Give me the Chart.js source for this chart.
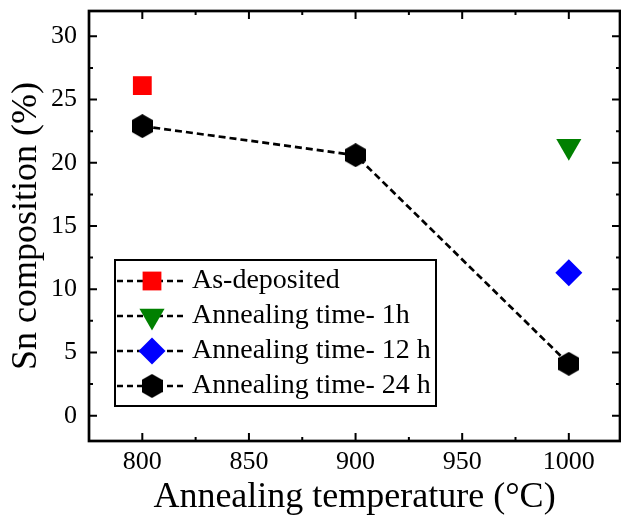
<!DOCTYPE html>
<html>
<head>
<meta charset="utf-8">
<script src="https://cdn.jsdelivr.net/npm/chart.js@4"></script>
<style>
  html, body { margin: 0; padding: 0; background: #fff; }
  #wrap { width: 621px; height: 516px; }
</style>
</head>
<body>
<div id="wrap"><canvas id="chart" width="621" height="516"></canvas></div>
<script>
// Sn composition vs annealing temperature

// data
const asDepTemp = [800];
const asDepComp = [26.1];
const h1Temp = [1000];
const h1Comp = [21.3];
const h12Temp = [1000];
const h12Comp = [11.3];
const h24Temp = [800, 900, 1000];
const h24Comp = [22.9, 20.6, 4.1];

const seriesNames = ['As-deposited', 'Annealing time- 1h', 'Annealing time- 12 h', 'Annealing time- 24 h'];
const xTickValues = [800, 850, 900, 950, 1000];
const yTickValues = [0, 5, 10, 15, 20, 25, 30];

const serif = "'Liberation Serif', 'Times New Roman', serif";

// hexagon marker (pointy top), no built-in style for it
function makeHexagon(w, h, color) {
    const c = document.createElement('canvas');
    c.width = w; c.height = h;
    const g = c.getContext('2d');
    g.fillStyle = color;
    g.beginPath();
    g.moveTo(w / 2, 0);
    g.lineTo(w, h / 4);
    g.lineTo(w, 3 * h / 4);
    g.lineTo(w / 2, h);
    g.lineTo(0, 3 * h / 4);
    g.lineTo(0, h / 4);
    g.closePath();
    g.fill();
    return c;
}
const hexMarker = makeHexagon(21, 24, '#000');

function toPoints(xs, ys) {
    return xs.map((x, i) => ({ x: x, y: ys[i] }));
}

// no extra room for the edge labels, the box is fixed
function noPad(s) {
    s.paddingTop = 0; s.paddingBottom = 0;
    s.paddingLeft = 0; s.paddingRight = 0;
}

// frame with inward ticks on all four sides
const framePlugin = {
    id: 'frame',
    afterDatasetsDraw(chart) {
        const { ctx, chartArea: ca, scales } = chart;
        const xs = scales.x, ys = scales.y;
        ctx.save();
        ctx.strokeStyle = '#000';
        ctx.lineWidth = 2.7;
        ctx.strokeRect(ca.left, ca.top, ca.right - ca.left, ca.bottom - ca.top);
        ctx.lineWidth = 2;
        const major = 8, minor = 4;
        for (let v = 775; v <= xs.max; v += 25) {
            const px = xs.getPixelForValue(v);
            const len = v % 50 === 0 ? major : minor;
            ctx.beginPath();
            ctx.moveTo(px, ca.bottom); ctx.lineTo(px, ca.bottom - len);
            ctx.moveTo(px, ca.top); ctx.lineTo(px, ca.top + len);
            ctx.stroke();
        }
        for (let v = 0; v <= ys.max; v += 2.5) {
            const py = ys.getPixelForValue(v);
            const len = v % 5 === 0 ? major : minor;
            ctx.beginPath();
            ctx.moveTo(ca.left, py); ctx.lineTo(ca.left + len, py);
            ctx.moveTo(ca.right, py); ctx.lineTo(ca.right - len, py);
            ctx.stroke();
        }
        ctx.restore();
    }
};

// boxed legend inside the plot, line + marker like the original
const boxLegendPlugin = {
    id: 'boxLegend',
    afterDraw(chart) {
        const { ctx, chartArea: ca } = chart;
        const left = ca.left + 26, top = ca.top + 249;
        const w = 321, h = 146, rowH = 35;
        ctx.save();
        ctx.fillStyle = '#fff';
        ctx.fillRect(left, top, w, h);
        ctx.strokeStyle = '#000';
        ctx.lineWidth = 2;
        ctx.strokeRect(left, top, w, h);
        chart.data.datasets.forEach((ds, i) => {
            const y = top + 21 + i * rowH;
            ctx.save();
            ctx.strokeStyle = '#000';
            ctx.lineWidth = 2.7;
            ctx.setLineDash([6, 4]);
            ctx.beginPath();
            ctx.moveTo(left + 2, y);
            ctx.lineTo(left + 72, y);
            ctx.stroke();
            ctx.restore();
            ctx.fillStyle = ds.pointBackgroundColor;
            ctx.strokeStyle = ds.pointBackgroundColor;
            ctx.lineWidth = 0;
            Chart.helpers.drawPoint(ctx, {
                pointStyle: ds.pointStyle,
                radius: ds.pointRadius,
                rotation: ds.pointRotation || 0,
                borderWidth: 0
            }, left + 37, y);
            ctx.fillStyle = '#000';
            ctx.font = '28px ' + serif;
            ctx.textBaseline = 'middle';
            ctx.textAlign = 'left';
            ctx.fillText(ds.label, left + 77, y);
        });
        ctx.restore();
    }
};

const bgPlugin = {
    id: 'bg',
    beforeDraw(chart) {
        const ctx = chart.ctx;
        ctx.save();
        ctx.fillStyle = '#fff';
        ctx.fillRect(0, 0, chart.width, chart.height);
        ctx.restore();
    }
};

new Chart(document.getElementById('chart'), {
    type: 'scatter',
    data: {
        datasets: [
            {
                label: seriesNames[0],
                data: toPoints(asDepTemp, asDepComp),
                pointStyle: 'rect',
                pointRadius: 13.3,
                pointBackgroundColor: '#ff0000',
                pointBorderWidth: 0,
                showLine: false
            },
            {
                label: seriesNames[1],
                data: toPoints(h1Temp, h1Comp),
                pointStyle: 'triangle',
                pointRotation: 180,
                pointRadius: 14.5,
                pointBackgroundColor: '#008000',
                pointBorderWidth: 0,
                showLine: false
            },
            {
                label: seriesNames[2],
                data: toPoints(h12Temp, h12Comp),
                pointStyle: 'rectRot',
                pointRadius: 13.5,
                pointBackgroundColor: '#0000ff',
                pointBorderWidth: 0,
                showLine: false
            },
            {
                label: seriesNames[3],
                data: toPoints(h24Temp, h24Comp),
                pointStyle: hexMarker,
                pointRadius: 12,
                pointBackgroundColor: '#000',
                pointBorderWidth: 0,
                showLine: true,
                borderColor: '#000',
                borderWidth: 2.7,
                borderDash: [7, 4]
            }
        ]
    },
    plugins: [bgPlugin, framePlugin, boxLegendPlugin],
    options: {
        responsive: false,
        animation: false,
        layout: { autoPadding: false, padding: { top: 11, right: 1, left: 0, bottom: 0 } },
        plugins: {
            legend: { display: false },
            tooltip: { enabled: false }
        },
        scales: {
            x: {
                type: 'linear',
                min: 775,
                max: 1024,
                afterBuildTicks: s => { s.ticks = xTickValues.map(v => ({ value: v })); },
                afterFit: s => { s.height = 75; noPad(s); },
                grid: { display: false, drawTicks: false },
                border: { display: false },
                ticks: {
                    color: '#000',
                    font: { family: serif, size: 26 },
                    padding: 6,
                    maxRotation: 0,
                    callback: v => String(v)
                },
                title: {
                    display: true,
                    text: 'Annealing temperature (°C)',
                    color: '#000',
                    font: { family: serif, size: 36, lineHeight: 1 },
                    padding: { top: 0, bottom: 0 }
                }
            },
            y: {
                type: 'linear',
                min: -2,
                max: 32,
                afterBuildTicks: s => { s.ticks = yTickValues.map(v => ({ value: v })); },
                afterFit: s => { s.width = 89; noPad(s); },
                grid: { display: false, drawTicks: false },
                border: { display: false },
                ticks: {
                    color: '#000',
                    font: { family: serif, size: 26 },
                    padding: 12,
                    callback: v => String(v)
                },
                title: {
                    display: true,
                    text: 'Sn composition (%)',
                    color: '#000',
                    font: { family: serif, size: 36, lineHeight: 1 },
                    padding: { top: 9, bottom: 0 }
                }
            }
        }
    }
});
</script>
</body>
</html>
